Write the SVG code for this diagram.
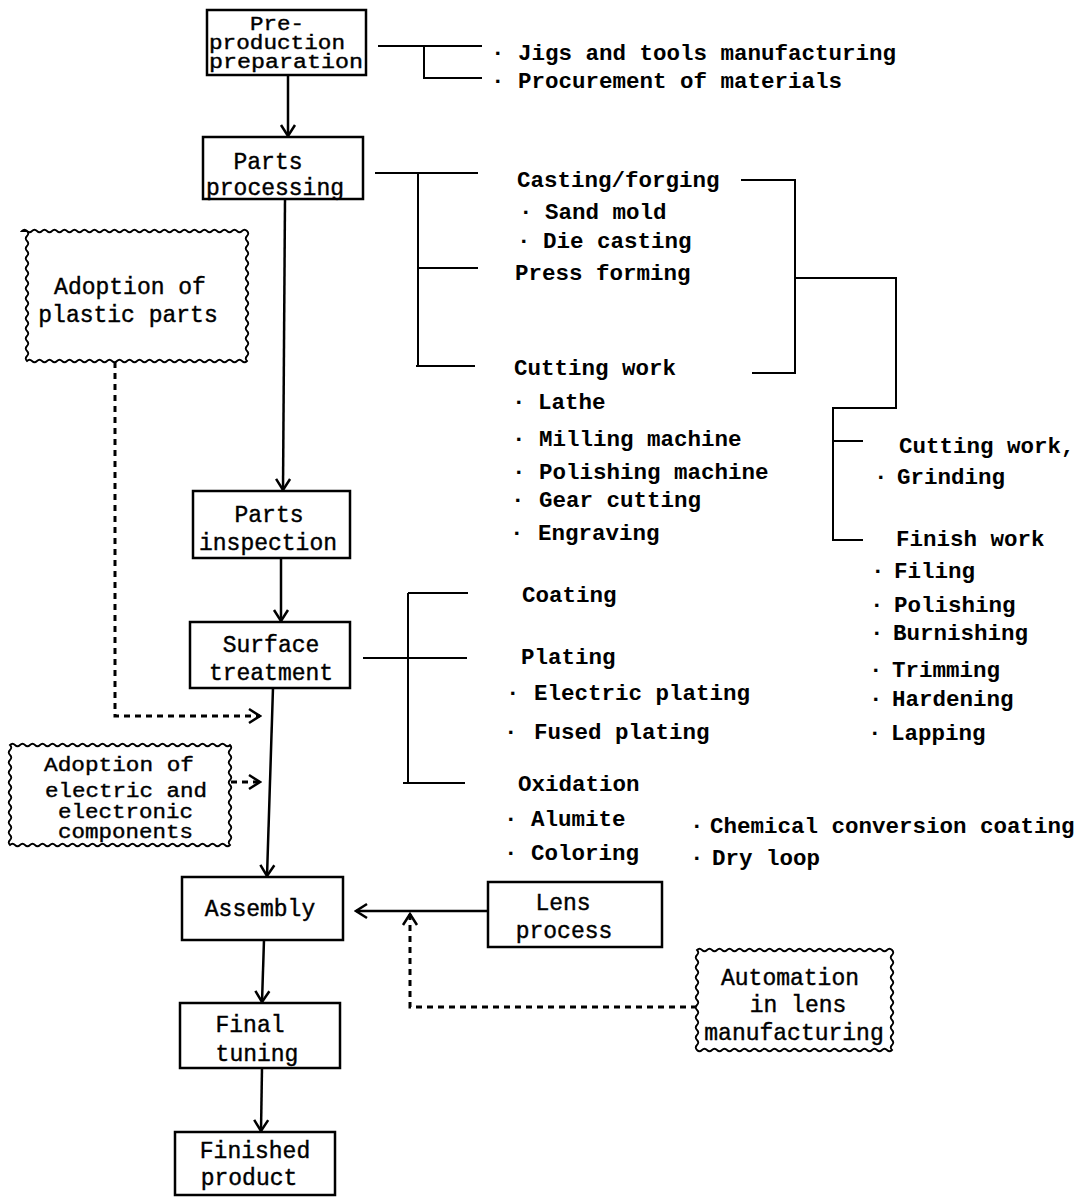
<svg xmlns="http://www.w3.org/2000/svg" width="1084" height="1199" viewBox="0 0 1084 1199">
<style>
.bx{fill:#fff;stroke:#000;stroke-width:2.5}
.wv{fill:#fff;stroke:#000;stroke-width:1.8}
.t{font-family:"Liberation Mono",monospace;font-size:23px;fill:#000;stroke:#000;stroke-width:0.4}
.s{font-size:20px}
.l{font-family:"Liberation Mono",monospace;font-size:22.5px;font-weight:bold;fill:#000}
.c{fill:none;stroke:#000;stroke-width:2.5}
.d{fill:none;stroke:#000;stroke-width:3;stroke-dasharray:6 5}
.br{fill:none;stroke:#000;stroke-width:2}
</style>
<defs>
<marker id="ah" markerUnits="userSpaceOnUse" markerWidth="18" markerHeight="18" viewBox="0 0 18 18" refX="16" refY="9" orient="auto">
<path d="M5 2 L16 9 L5 16" fill="none" stroke="#000" stroke-width="2.5" stroke-dasharray="none"/>
</marker>
</defs>
<rect width="1084" height="1199" fill="#fff"/>

<g id="connectors">
<line class="c" x1="288" y1="75" x2="288" y2="136" marker-end="url(#ah)"/>
<line class="c" x1="285" y1="199" x2="283" y2="490" marker-end="url(#ah)"/>
<line class="c" x1="281" y1="558" x2="281" y2="621" marker-end="url(#ah)"/>
<line class="c" x1="273" y1="688" x2="267" y2="876" marker-end="url(#ah)"/>
<line class="c" x1="264" y1="940" x2="262" y2="1002" marker-end="url(#ah)"/>
<line class="c" x1="262" y1="1068" x2="261" y2="1131" marker-end="url(#ah)"/>
<line class="c" x1="488" y1="911" x2="356" y2="911" marker-end="url(#ah)"/>
<path class="d" d="M115 362 V716 H260" marker-end="url(#ah)"/>
<path class="d" d="M231 782 H260" marker-end="url(#ah)"/>
<path class="d" d="M697 1007 H410 V914" marker-end="url(#ah)"/>
<path class="br" d="M378 46 H482 M424 46 V78 H482"/>
<path class="br" d="M375 173 H478 M418 173 V366 M418 268 H478 M416 366 H475"/>
<path class="br" d="M741 180 H795 V373 H752 M795 278 H896 V408 H833 V540 H863 M833 441 H863"/>
<path class="br" d="M363 658 H467 M408 593 V783 M408 593 H468 M403 783 H465"/>
</g>

<g id="pre-production">
<rect class="bx" x="207" y="10" width="159" height="65"/>
<text class="t s" x="250" y="30" textLength="54" lengthAdjust="spacingAndGlyphs">Pre-</text>
<text class="t s" x="209" y="49" textLength="136" lengthAdjust="spacingAndGlyphs">production</text>
<text class="t s" x="209" y="68" textLength="154" lengthAdjust="spacingAndGlyphs">preparation</text>
</g>
<g id="parts-processing">
<rect class="bx" x="203" y="137" width="160" height="62"/>
<text class="t" x="268" y="169" text-anchor="middle">Parts</text>
<text class="t" x="206" y="195">processing</text>
</g>
<g id="parts-inspection">
<rect class="bx" x="193" y="491" width="157" height="67"/>
<text class="t" x="269" y="522" text-anchor="middle">Parts</text>
<text class="t" x="268" y="550" text-anchor="middle">inspection</text>
</g>
<g id="surface-treatment">
<rect class="bx" x="190" y="622" width="160" height="66"/>
<text class="t" x="271" y="652" text-anchor="middle">Surface</text>
<text class="t" x="271" y="680" text-anchor="middle">treatment</text>
</g>
<g id="assembly">
<rect class="bx" x="182" y="877" width="161" height="63"/>
<text class="t" x="260" y="916" text-anchor="middle">Assembly</text>
</g>
<g id="lens-process">
<rect class="bx" x="488" y="882" width="174" height="65"/>
<text class="t" x="563" y="910" text-anchor="middle">Lens</text>
<text class="t" x="564" y="938" text-anchor="middle">process</text>
</g>
<g id="final-tuning">
<rect class="bx" x="180" y="1003" width="160" height="65"/>
<text class="t" x="250" y="1032" text-anchor="middle">Final</text>
<text class="t" x="257" y="1061" text-anchor="middle">tuning</text>
</g>
<g id="finished-product">
<rect class="bx" x="175" y="1132" width="160" height="63"/>
<text class="t" x="255" y="1158" text-anchor="middle">Finished</text>
<text class="t" x="249" y="1185" text-anchor="middle">product</text>
</g>

<g id="adoption-plastic">
<path class="wv" d="M22 231 q2.5 -2.5 5 0 t5 0 t5 0 t5 0 t5 0 t5 0 t5 0 t5 0 t5 0 t5 0 t5 0 t5 0 t5 0 t5 0 t5 0 t5 0 t5 0 t5 0 t5 0 t5 0 t5 0 t5 0 t5 0 t5 0 t5 0 t5 0 t5 0 t5 0 t5 0 t5 0 t5 0 t5 0 t5 0 t5 0 t5 0 t5 0 t5 0 t5 0 t5 0 t5 0 t5 0 t5 0 t5 0 t5 0 t5 0 q2.5 2.5 0 5 t0 5 t0 5 t0 5 t0 5 t0 5 t0 5 t0 5 t0 5 t0 5 t0 5 t0 5 t0 5 t0 5 t0 5 t0 5 t0 5 t0 5 t0 5 t0 5 t0 5 t0 5 t0 5 t0 5 t0 5 t0 5 q-2.5 2.5 -5 0 t-5 0 t-5 0 t-5 0 t-5 0 t-5 0 t-5 0 t-5 0 t-5 0 t-5 0 t-5 0 t-5 0 t-5 0 t-5 0 t-5 0 t-5 0 t-5 0 t-5 0 t-5 0 t-5 0 t-5 0 t-5 0 t-5 0 t-5 0 t-5 0 t-5 0 t-5 0 t-5 0 t-5 0 t-5 0 t-5 0 t-5 0 t-5 0 t-5 0 t-5 0 t-5 0 t-5 0 t-5 0 t-5 0 t-5 0 t-5 0 t-5 0 t-5 0 t-5 0 q-2.5 -2.5 0 -5 t0 -5 t0 -5 t0 -5 t0 -5 t0 -5 t0 -5 t0 -5 t0 -5 t0 -5 t0 -5 t0 -5 t0 -5 t0 -5 t0 -5 t0 -5 t0 -5 t0 -5 t0 -5 t0 -5 t0 -5 t0 -5 t0 -5 t0 -5 t0 -5 t0 -5 Z"/>
<text class="t" x="130" y="294" text-anchor="middle">Adoption of</text>
<text class="t" x="128" y="322" text-anchor="middle">plastic parts</text>
</g>
<g id="adoption-electric">
<path class="wv" d="M10 745 q2.5 -2.5 5 0 t5 0 t5 0 t5 0 t5 0 t5 0 t5 0 t5 0 t5 0 t5 0 t5 0 t5 0 t5 0 t5 0 t5 0 t5 0 t5 0 t5 0 t5 0 t5 0 t5 0 t5 0 t5 0 t5 0 t5 0 t5 0 t5 0 t5 0 t5 0 t5 0 t5 0 t5 0 t5 0 t5 0 t5 0 t5 0 t5 0 t5 0 t5 0 t5 0 t5 0 t5 0 t5 0 t5 0 q2.5 2.5 0 5 t0 5 t0 5 t0 5 t0 5 t0 5 t0 5 t0 5 t0 5 t0 5 t0 5 t0 5 t0 5 t0 5 t0 5 t0 5 t0 5 t0 5 t0 5 t0 5 q-2.5 2.5 -5 0 t-5 0 t-5 0 t-5 0 t-5 0 t-5 0 t-5 0 t-5 0 t-5 0 t-5 0 t-5 0 t-5 0 t-5 0 t-5 0 t-5 0 t-5 0 t-5 0 t-5 0 t-5 0 t-5 0 t-5 0 t-5 0 t-5 0 t-5 0 t-5 0 t-5 0 t-5 0 t-5 0 t-5 0 t-5 0 t-5 0 t-5 0 t-5 0 t-5 0 t-5 0 t-5 0 t-5 0 t-5 0 t-5 0 t-5 0 t-5 0 t-5 0 t-5 0 t-5 0 q-2.5 -2.5 0 -5 t0 -5 t0 -5 t0 -5 t0 -5 t0 -5 t0 -5 t0 -5 t0 -5 t0 -5 t0 -5 t0 -5 t0 -5 t0 -5 t0 -5 t0 -5 t0 -5 t0 -5 t0 -5 t0 -5 Z"/>
<text class="t s" x="44" y="771" textLength="150" lengthAdjust="spacingAndGlyphs">Adoption of</text>
<text class="t s" x="45" y="797" textLength="162" lengthAdjust="spacingAndGlyphs">electric and</text>
<text class="t s" x="58" y="818" textLength="135" lengthAdjust="spacingAndGlyphs">electronic</text>
<text class="t s" x="58" y="838" textLength="135" lengthAdjust="spacingAndGlyphs">components</text>
</g>
<g id="automation-lens">
<path class="wv" d="M697 950 q2.5 -2.5 5 0 t5 0 t5 0 t5 0 t5 0 t5 0 t5 0 t5 0 t5 0 t5 0 t5 0 t5 0 t5 0 t5 0 t5 0 t5 0 t5 0 t5 0 t5 0 t5 0 t5 0 t5 0 t5 0 t5 0 t5 0 t5 0 t5 0 t5 0 t5 0 t5 0 t5 0 t5 0 t5 0 t5 0 t5 0 t5 0 t5 0 t5 0 t5 0 q2.5 2.5 0 5 t0 5 t0 5 t0 5 t0 5 t0 5 t0 5 t0 5 t0 5 t0 5 t0 5 t0 5 t0 5 t0 5 t0 5 t0 5 t0 5 t0 5 t0 5 t0 5 q-2.5 2.5 -5 0 t-5 0 t-5 0 t-5 0 t-5 0 t-5 0 t-5 0 t-5 0 t-5 0 t-5 0 t-5 0 t-5 0 t-5 0 t-5 0 t-5 0 t-5 0 t-5 0 t-5 0 t-5 0 t-5 0 t-5 0 t-5 0 t-5 0 t-5 0 t-5 0 t-5 0 t-5 0 t-5 0 t-5 0 t-5 0 t-5 0 t-5 0 t-5 0 t-5 0 t-5 0 t-5 0 t-5 0 t-5 0 t-5 0 q-2.5 -2.5 0 -5 t0 -5 t0 -5 t0 -5 t0 -5 t0 -5 t0 -5 t0 -5 t0 -5 t0 -5 t0 -5 t0 -5 t0 -5 t0 -5 t0 -5 t0 -5 t0 -5 t0 -5 t0 -5 t0 -5 Z"/>
<text class="t" x="790" y="985" text-anchor="middle">Automation</text>
<text class="t" x="798" y="1012" text-anchor="middle">in lens</text>
<text class="t" x="794" y="1040" text-anchor="middle">manufacturing</text>
</g>

<g id="pre-production-items">
<text class="l" x="491" y="60">·<tspan x="518">Jigs and tools manufacturing</tspan></text>
<text class="l" x="491" y="88">·<tspan x="518">Procurement of materials</tspan></text>
</g>
<g id="parts-processing-items">
<text class="l" x="517" y="187">Casting/forging</text>
<text class="l" x="519" y="219">·<tspan x="545">Sand mold</tspan></text>
<text class="l" x="517" y="248">·<tspan x="543">Die casting</tspan></text>
<text class="l" x="515" y="280">Press forming</text>
<text class="l" x="514" y="375">Cutting work</text>
<text class="l" x="512" y="409">·<tspan x="538">Lathe</tspan></text>
<text class="l" x="512" y="446">·<tspan x="539">Milling machine</tspan></text>
<text class="l" x="512" y="479">·<tspan x="539">Polishing machine</tspan></text>
<text class="l" x="511" y="507">·<tspan x="539">Gear cutting</tspan></text>
<text class="l" x="510" y="540">·<tspan x="538">Engraving</tspan></text>
</g>
<g id="finishing-items">
<text class="l" x="899" y="453">Cutting work,</text>
<text class="l" x="874" y="484">·<tspan x="897">Grinding</tspan></text>
<text class="l" x="896" y="546">Finish work</text>
<text class="l" x="871" y="578">·<tspan x="894">Filing</tspan></text>
<text class="l" x="870" y="612">·<tspan x="894">Polishing</tspan></text>
<text class="l" x="870" y="640">·<tspan x="893">Burnishing</tspan></text>
<text class="l" x="869" y="677">·<tspan x="892">Trimming</tspan></text>
<text class="l" x="869" y="706">·<tspan x="892">Hardening</tspan></text>
<text class="l" x="868" y="740">·<tspan x="891">Lapping</tspan></text>
</g>
<g id="surface-items">
<text class="l" x="522" y="602">Coating</text>
<text class="l" x="521" y="664">Plating</text>
<text class="l" x="506" y="700">·<tspan x="534">Electric plating</tspan></text>
<text class="l" x="504" y="739">·<tspan x="534">Fused plating</tspan></text>
<text class="l" x="518" y="791">Oxidation</text>
<text class="l" x="504" y="826">·<tspan x="531">Alumite</tspan></text>
<text class="l" x="504" y="860">·<tspan x="531">Coloring</tspan></text>
<text class="l" x="690" y="833">·<tspan x="710">Chemical conversion coating</tspan></text>
<text class="l" x="690" y="865">·<tspan x="712">Dry loop</tspan></text>
</g>
</svg>
